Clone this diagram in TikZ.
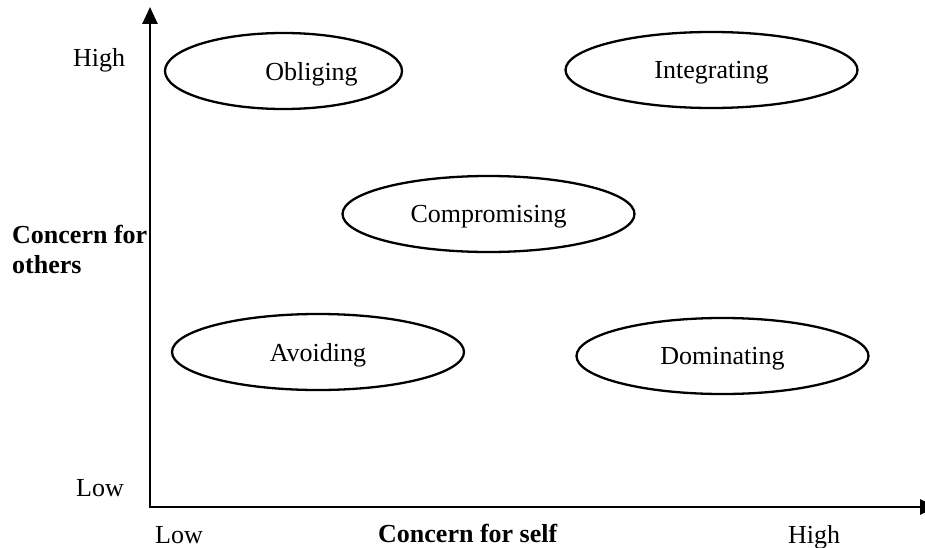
\documentclass[tikz,border=0pt]{standalone}
\usepackage{fontspec}
\setmainfont{Liberation Serif}
\usetikzlibrary{shapes.geometric,arrows.meta}

\begin{document}
\begin{tikzpicture}[x=1pt,y=-1pt,
  font=\fontsize{26}{30}\selectfont,
  axis/.style={line width=2.6pt,-{Triangle[length=17pt,width=15pt]}},
  style5/.style={ellipse,draw,line width=2.3pt,inner sep=0pt,text depth=0pt,
                 minimum width=292pt,minimum height=76pt},
  lbl/.style={anchor=base west,inner sep=0pt},
  axlbl/.style={anchor=base west,inner sep=0pt,font=\fontsize{26}{30}\selectfont\bfseries}]
  \useasboundingbox (0,0) rectangle (925,548);

  % axes
  \coordinate (origin) at (150,507);
  \coordinate (ytip) at (150,7);
  \coordinate (xstart) at (149,507);
  \coordinate (xtip) at (937,507);
  \draw[axis] (origin) -- (ytip);
  \draw[axis] (xstart) -- (xtip);

  % the five conflict styles
  \node[style5,minimum width=237pt] (obliging) at (283.5,71) {};
  \node[inner sep=0pt,text depth=0pt] (obligingText) at (311.5,71) {Obliging};
  \node[style5] (integrating) at (711.5,70) {Integrating};
  \node[style5] (compromising) at (488.5,214) {Compromising};
  \node[style5] (avoiding) at (318,352) {Avoiding};
  \node[style5] (dominating) at (722.5,356) {Dominating};

  % axis labels
  \node[lbl] (yhigh) at (73,67) {High};
  \node[lbl] (ylow) at (76,496) {Low};
  \node[lbl] (xlow) at (155,543) {Low};
  \node[lbl] (xhigh) at (788,543) {High};
  \node[axlbl] (xname) at (378,542) {Concern for self};
  \node[axlbl] (yname1) at (12,243) {Concern for};
  \node[axlbl] (yname2) at (12,273) {others};
\end{tikzpicture}
\end{document}
